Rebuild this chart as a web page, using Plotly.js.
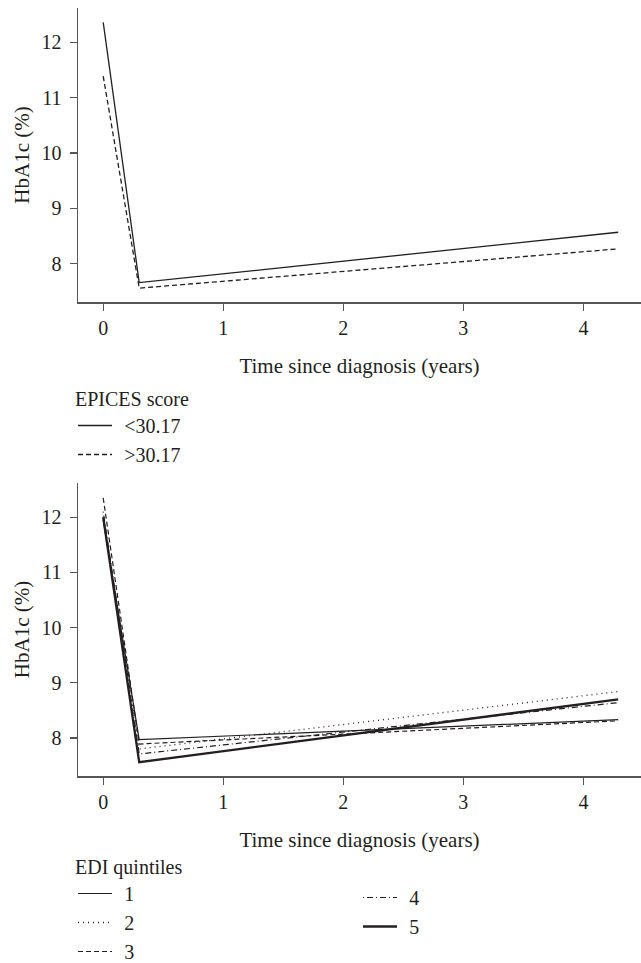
<!DOCTYPE html>
<html>
<head>
<meta charset="utf-8">
<script src="https://cdn.plot.ly/plotly-3.0.1.min.js"></script>
<style>html,body{margin:0;padding:0;background:#fff;}#chart{width:641px;height:963px;}</style>
</head>
<body>
<div id="chart"></div>
<script>
// Time points (years since diagnosis)
var timePoints = [0, 0.3, 4.29];
// EPICES score groups
var epicesNames = ['<30.17', '>30.17'];
var epicesLow = [12.36, 7.66, 8.57];
var epicesHigh = [11.39, 7.56, 8.27];
// EDI quintiles
var ediNames = ['1', '2', '3', '4', '5'];
var edi1 = [11.95, 7.97, 8.33];
var edi2 = [12.0, 7.80, 8.84];
var edi3 = [12.35, 7.89, 8.31];
var edi4 = [12.1, 7.71, 8.64];
var edi5 = [12.0, 7.56, 8.70];
var xTickVals = [0, 1, 2, 3, 4];
var yTickVals = [8, 9, 10, 11, 12];

var ink = '#231f20';
var fontFam = "'Liberation Serif', 'DejaVu Serif', serif";
var H = 963, PW = 563, ML = 78;
var gap = '\u2009\u2006';

function tr(x, y, name, dash, w, xa, ya, leg) {
  return {x: x, y: y, name: gap + name, type: 'scatter', mode: 'lines',
    line: {color: ink, width: w, dash: dash}, xaxis: xa, yaxis: ya, legend: leg,
    hoverinfo: 'skip'};
}

var data = [
  tr(timePoints, epicesLow, epicesNames[0], 'solid', 1.3, 'x', 'y', 'legend'),
  tr(timePoints, epicesHigh, epicesNames[1], '5px,3px', 1.3, 'x', 'y', 'legend'),
  tr(timePoints, edi1, ediNames[0], 'solid', 1.2, 'x2', 'y2', 'legend2'),
  tr(timePoints, edi2, ediNames[1], '1px,4px', 1.3, 'x2', 'y2', 'legend2'),
  tr(timePoints, edi3, ediNames[2], '5px,3px', 1.2, 'x2', 'y2', 'legend2'),
  tr(timePoints, edi4, ediNames[3], '1px,3px,6px,3px', 1.2, 'x2', 'y2', 'legend3'),
  tr(timePoints, edi5, ediNames[4], 'solid', 2.3, 'x2', 'y2', 'legend3')
];

function xax(anchor) {
  return {anchor: anchor, range: [-0.21, 4.48], tickvals: xTickVals, showline: true,
    linecolor: '#555', linewidth: 1.5, ticks: 'outside', ticklen: 7, tickwidth: 1.3,
    tickcolor: '#555', showgrid: false, zeroline: false, ticklabelstandoff: 0,
    tickfont: {family: fontFam, size: 20, color: ink}, automargin: true,
    title: {text: 'Time since diagnosis (years)', font: {family: fontFam, size: 21, color: ink}, standoff: 21}};
}
function yax(anchor, dom) {
  return {anchor: anchor, domain: dom, range: [7.31, 12.62], tickvals: yTickVals, showline: true,
    linecolor: '#555', linewidth: 1.5, ticks: 'outside', ticklen: 7, tickwidth: 1.3,
    tickcolor: '#555', showgrid: false, zeroline: false, ticklabelstandoff: 4,
    tickfont: {family: fontFam, size: 20, color: ink}, automargin: true,
    title: {text: 'HbA1c (%)', font: {family: fontFam, size: 21, color: ink}, standoff: 5.5}};
}
function leg(px, py, title) {
  var o = {x: (px - ML) / PW, y: 1 - py / H, xanchor: 'left', yanchor: 'top', bgcolor: 'rgba(0,0,0,0)',
    borderwidth: 0, font: {family: fontFam, size: 20, color: ink}, tracegroupgap: 0, itemwidth: 34};
  if (title) o.title = {text: title, font: {family: fontFam, size: 20, color: ink}};
  return o;
}

var layout = {
  width: 641, height: 963,
  margin: {l: ML, r: 0, t: 0, b: 0, autoexpand: false},
  paper_bgcolor: '#fff', plot_bgcolor: '#fff',
  showlegend: true,
  font: {family: fontFam, color: ink},
  xaxis: xax('y'),
  yaxis: yax('x', [1 - 302 / H, 1 - 8 / H]),
  xaxis2: xax('y2'),
  yaxis2: yax('x2', [1 - 776 / H, 1 - 483 / H]),
  legend: leg(73, 380, 'EPICES score'),
  legend2: leg(73, 848, 'EDI quintiles'),
  legend3: leg(358, 878, null)
};

Plotly.newPlot('chart', data, layout, {staticPlot: true, displayModeBar: false});
</script>
</body>
</html>
